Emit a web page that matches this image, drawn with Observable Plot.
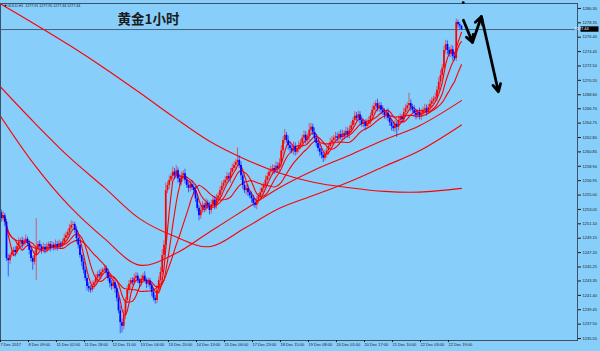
<!DOCTYPE html>
<html><head><meta charset="utf-8">
<script src="https://cdn.jsdelivr.net/npm/d3@7"></script>
<script src="https://cdn.jsdelivr.net/npm/@observablehq/plot@0.6"></script>
<style>
html,body{margin:0;padding:0;background:#87CEFA;}
#chart{width:600px;height:351px;overflow:hidden;}
</style></head><body><div id="chart"></div>
<script>
// ---- data (GOLD H1 bars) ----
const firstOpen = 1253.0;
const closes = [
1252.6,1251.8,1252.2,1251.3,1246.4,1246.1,1246.8,1247.2,1247.5,1247.2,
1248.0,1248.6,1248.8,1248.3,1248.7,1249.0,1248.4,1247.5,1246.4,1245.9,
1246.8,1247.8,1248.3,1248.0,1247.6,1247.9,1247.5,1248.0,1248.3,1247.8,
1248.2,1247.9,1248.3,1248.0,1248.4,1248.2,1248.6,1249.1,1249.5,1249.9,
1250.5,1250.9,1251.0,1250.2,1249.1,1248.2,1246.8,1245.9,1244.8,1243.7,
1242.6,1242.3,1242.1,1242.7,1243.1,1243.7,1244.2,1244.0,1244.5,1244.8,
1245.0,1244.5,1243.7,1243.0,1242.6,1243.1,1242.3,1241.0,1239.3,1237.7,
1237.2,1238.7,1240.7,1242.1,1242.9,1243.4,1243.1,1243.7,1244.0,1243.4,
1243.0,1243.6,1244.0,1243.4,1242.9,1243.3,1242.7,1241.8,1241.0,1240.7,
1242.1,1243.4,1244.5,1246.8,1248.2,1255.6,1256.3,1257.0,1257.5,1258.1,
1257.6,1258.3,1257.2,1256.7,1257.6,1257.9,1257.0,1256.3,1255.9,1256.4,
1256.0,1255.6,1254.5,1253.2,1252.2,1252.9,1253.6,1253.2,1253.9,1253.5,
1252.9,1253.7,1254.3,1253.6,1254.5,1254.9,1255.6,1256.2,1256.6,1257.0,
1257.5,1257.2,1258.1,1258.6,1259.0,1259.4,1259.7,1259.0,1257.6,1256.3,
1255.6,1255.9,1255.3,1254.9,1254.5,1253.9,1253.6,1254.3,1254.8,1255.3,
1255.9,1256.3,1257.0,1257.5,1258.1,1258.3,1258.6,1258.3,1258.9,1258.6,
1259.3,1261.0,1262.4,1263.1,1262.4,1261.7,1261.3,1261.0,1261.6,1260.8,
1261.3,1261.7,1262.0,1262.7,1263.1,1262.4,1262.9,1263.8,1264.2,1263.5,
1262.7,1262.0,1261.3,1260.8,1260.4,1260.0,1260.5,1261.0,1261.6,1262.1,
1262.4,1262.7,1262.9,1262.7,1263.2,1262.8,1263.3,1263.1,1263.6,1263.2,
1263.8,1264.4,1265.1,1265.7,1265.4,1265.9,1265.1,1264.6,1264.8,1264.3,
1264.7,1265.1,1265.7,1266.5,1267.0,1267.4,1266.7,1267.1,1266.5,1266.2,
1265.8,1266.1,1265.4,1264.8,1264.3,1264.0,1264.6,1264.2,1265.1,1265.5,
1265.2,1266.2,1266.7,1267.1,1267.4,1266.9,1266.5,1266.1,1265.8,1266.2,
1265.7,1266.1,1266.5,1266.7,1266.3,1266.9,1267.3,1267.7,1268.0,1268.2,
1269.2,1270.3,1271.2,1272.2,1274.6,1275.4,1274.6,1274.1,1274.7,1273.8,
1273.5,1278.4,1278.1,1277.9,1277.44];
// wick length above the body top / below the body bottom
const wickHi = [
.5,.4,.6,.3,.4,.5,.3,.6,.4,.5, .4,.6,.3,.5,.4,.6,.3,.4,.5,.3,
.6,4.0,.4,.5,.3,.6,.4,.5,.3,.4, .5,.3,.6,.4,.5,.3,.4,.6,.5,.4,
.5,.6,.4,.3,.5,.4,.6,.3,.5,.4, .3,.5,.4,.6,.3,.5,.4,.6,.5,.3,
.6,.4,.5,.3,.4,.6,.3,.5,.4,.6, .5,.7,.4,.6,.5,.3,.4,.6,.5,.4,
.3,.5,.4,.6,.3,.5,.4,.3,.5,.4, .6,.5,.7,.8,.6,1.0,.5,.6,.4,.7,
.5,.7,.4,.6,.5,.4,.6,.5,.4,.6, .5,.4,.6,.5,.4,.6,.5,.3,.6,.4,
.5,.6,.4,.5,.6,.4,.5,.6,.4,.5, .6,.4,.5,.6,.5,.4,1.7,.6,.5,.4,
.6,.5,.4,.3,.5,.4,.6,.5,.4,.6, .5,.4,.6,.5,.4,.6,.5,.4,.6,.5,
.6,.7,.5,.8,.4,.6,.5,.4,.6,.5, .4,.6,.5,.4,.6,.5,.4,.9,.5,.4,
.6,.5,.4,.6,.5,.4,.6,.5,.4,.6, .5,.4,.6,.5,.4,.6,.5,.4,.6,.5,
.6,.5,.4,.6,.5,.5,.4,.6,.5,.4, .6,.5,.4,.6,.5,.4,.6,.5,.4,.6,
.5,.4,.6,.5,.4,.6,.5,.4,.6,.5, .4,.6,.5,.4,1.4,.5,.4,.6,.5,.4,
.6,.5,.4,.6,.5,.4,.6,.5,.4,.6, .5,.6,.7,.5,.6,.6,.5,.4,.6,.5,
.4,.5,.3,.3,.05];
const wickLo = [
.4,.5,.3,.6,.4,2.2,.5,.3,.4,.6, .3,.5,.4,.6,.3,.5,.4,.6,.5,1.1,
.4,3.4,.5,.3,.6,.4,.5,.3,.4,.5, .3,.5,.4,.6,.3,.5,.4,.3,.5,.4,
.6,.3,.5,.4,.6,.5,.4,.6,.5,.4, .6,.5,.4,.3,.5,.4,.6,.3,.5,.4,
.3,.5,.4,.6,.5,.4,.6,.5,.4,1.5, .9,.5,.6,.4,.5,.6,.4,.3,.5,.4,
.6,.4,.5,.3,.6,.4,.5,.6,.4,.5, .4,.5,.3,.4,.5,.6,.4,.5,.3,.4,
.5,.4,.6,.5,.4,.6,.5,.4,.6,.5, .4,.6,.5,.4,.7,.5,.4,.6,.5,.4,
.6,.5,.4,.6,.5,.4,.6,.5,.4,.6, .5,.4,.6,.5,.4,.6,.5,.4,.6,.5,
.4,.6,.5,.4,.6,.5,.4,.6,.5,.4, .6,.5,.4,.6,.5,.4,.6,.5,.4,.6,
.5,.4,.6,.5,.4,.6,.5,.4,.6,.5, .4,.6,.5,.4,.6,.5,.4,.6,.5,.4,
.6,.5,.4,.6,.5,.6,.4,.5,.6,.4, .5,.6,.4,.5,.6,.4,.5,.6,.4,.5,
.6,.4,.5,.6,.4,.5,.6,.4,.5,.6, .4,.5,.6,.4,.5,.6,.4,.5,.6,.4,
.5,.6,.4,.5,.6,.4,.5,1.4,.5,.6, .4,.5,.6,.4,.5,.6,.4,.5,.6,.4,
.5,.6,.4,.5,.6,.4,.5,.6,.4,.5, .6,.4,.5,.6,.4,.5,.6,.4,.5,.6,
.3,.4,.5,.4,.1];

// slow moving averages at these bars
const maBars = [0,20,40,60,80,100,120,140,160,180,200,220,240,264];
const ma240 = [1281.0,1278.2,1275.3,1272.2,1268.9,1265.5,1262.3,1259.9,1258.0,1256.7,1256.0,1255.5,1255.4,1255.9];
const ma120 = [1269.8,1264.8,1260.1,1256.0,1251.8,1249.4,1248.0,1250.5,1253.2,1255.0,1256.8,1258.9,1261.0,1264.5];
const ma60  = [1265.9,1259.1,1253.5,1249.1,1245.5,1247.0,1250.0,1253.0,1256.0,1258.4,1260.4,1262.5,1264.4,1267.8];
const fastPeriods = [5, 10, 20];

const xTickBars = [0,16,32,48,64,80,96,112,128,144,160,176,192,208,224,240,256];
const xLabels = ["7 Dec 2017","8 Dec 09:00","11 Dec 02:00","11 Dec 18:00","12 Dec 11:00","13 Dec 04:00","13 Dec 20:00","14 Dec 13:00","15 Dec 06:00","17 Dec 23:00","18 Dec 15:00","19 Dec 08:00","20 Dec 01:00","20 Dec 17:00","21 Dec 10:00","22 Dec 03:00","22 Dec 19:00"];
const yTicks = [1280.30,1278.35,1276.40,1274.45,1272.50,1270.55,1268.60,1266.70,1264.75,1262.80,1260.85,1258.90,1256.95,1255.00,1253.05,1251.10,1249.15,1247.20,1245.25,1243.35,1241.40,1239.45,1237.50,1235.55];

const lastPrice = 1277.44;
const titleText = "黄金1小时";
const infoText = "GOLD,H1  1277.91 1277.95 1277.34 1277.44";
// hand-drawn forecast arrows (bar index, price)
const arrowSegs = [
  {x1:265.1, y1:1278.7, x2:270.3, y2:1275.7},
  {x1:270.3, y1:1275.7, x2:275.4, y2:1279.2},
  {x1:275.4, y1:1279.2, x2:285.1, y2:1269.0}
];
const topMark = [{i:265.0, p:1281.1}];

// ---- build tables ----
const bars = closes.map((c, i) => {
  const o = i ? closes[i - 1] : firstOpen;
  return {i, o, c, h: Math.max(o, c) + wickHi[i], l: Math.min(o, c) - wickLo[i],
          col: c >= o ? "#ff0000" : "#0000ff"};
});
const slow = [ma240, ma120, ma60].flatMap((arr, k) => arr.map((v, j) => ({i: maBars[j], v, k})));

const W = 600, H = 351, mL = 0, mR = 23, mT = 3, mB = 11;
const xDomain = [0.571, 330.29];
const yDomain = [1235.28, 1280.97];

const priceBox = (index, scales, values, dims) => {
  const y = scales.y(lastPrice);
  const g = d3.create("svg:g");
  const x0 = dims.width - dims.marginRight + 3.5;
  g.append("rect").attr("x", x0).attr("y", y - 2.7).attr("width", 18).attr("height", 5.4).attr("fill", "#000");
  g.append("text").attr("x", x0 + 1).attr("y", y).attr("dy", "0.35em")
    .attr("fill", "#fff").attr("font-size", 4).attr("font-family", "Liberation Sans, Arial, sans-serif")
    .text(lastPrice.toFixed(2));
  return g.node();
};

const chart = Plot.plot({
  width: W, height: H,
  marginLeft: mL, marginRight: mR, marginTop: mT, marginBottom: mB,
  style: {background: "#87CEFA", fontFamily: "Liberation Sans, Arial, sans-serif", overflow: "visible"},
  x: {domain: xDomain},
  y: {domain: yDomain},
  color: {type: "identity"},
  marks: [
    Plot.ruleY([lastPrice], {stroke: "#4c6277", strokeWidth: 1}),
    Plot.line(slow, {x: "i", y: "v", z: "k", stroke: "#ff0000", strokeWidth: 1.1, curve: "catmull-rom", clip: true}),
    ...fastPeriods.map(k => Plot.lineY(bars, Plot.windowY({k, anchor: "end", reduce: "mean"}, {x: "i", y: "c", stroke: "#ff0000", strokeWidth: 1.1, clip: true}))),
    Plot.ruleX(bars, {x: "i", y1: "l", y2: "h", stroke: "col", strokeOpacity: 0.55, strokeWidth: 1}),
    Plot.ruleX(bars, {x: "i", y1: "o", y2: "c", stroke: "col", strokeWidth: 1.75}),
    Plot.frame({stroke: "#3d5166", strokeWidth: 1}),
    Plot.axisY(yTicks, {anchor: "right", tickSize: 3, tickPadding: 2, fontSize: 4, color: "#1a1a1a",
      tickFormat: d => d.toFixed(2)}),
    Plot.axisX(xTickBars, {anchor: "bottom", tickSize: 2, tickPadding: 1, fontSize: 4, color: "#1a1a1a",
      textAnchor: "start", dx: 1, tickFormat: d => xLabels[xTickBars.indexOf(d)]}),
    priceBox,
    Plot.arrow(arrowSegs, {x1: "x1", y1: "y1", x2: "x2", y2: "y2", stroke: "#000", strokeWidth: 2.8, headLength: 4.5, headAngle: 55}),
    Plot.dot(topMark, {x: "i", y: "p", r: 1.4, fill: "#000"}),
    Plot.text([titleText], {frameAnchor: "top-left", dx: 117, dy: 16.5, lineAnchor: "middle", textAnchor: "start",
      fontSize: 13.5, fontWeight: "bold", fill: "#1b1b1b", fontFamily: "Noto Sans CJK SC, sans-serif"}),
    Plot.text(["▼"], {frameAnchor: "top-left", dx: 3, dy: 2, lineAnchor: "middle", fontSize: 4, fill: "#000"}),
    Plot.text([infoText], {frameAnchor: "top-left", dx: 7, dy: 2.2, lineAnchor: "middle", textAnchor: "start",
      fontSize: 3.6, fill: "#1a1a1a"})
  ]
});
document.getElementById("chart").appendChild(chart);
</script>
</body></html>
